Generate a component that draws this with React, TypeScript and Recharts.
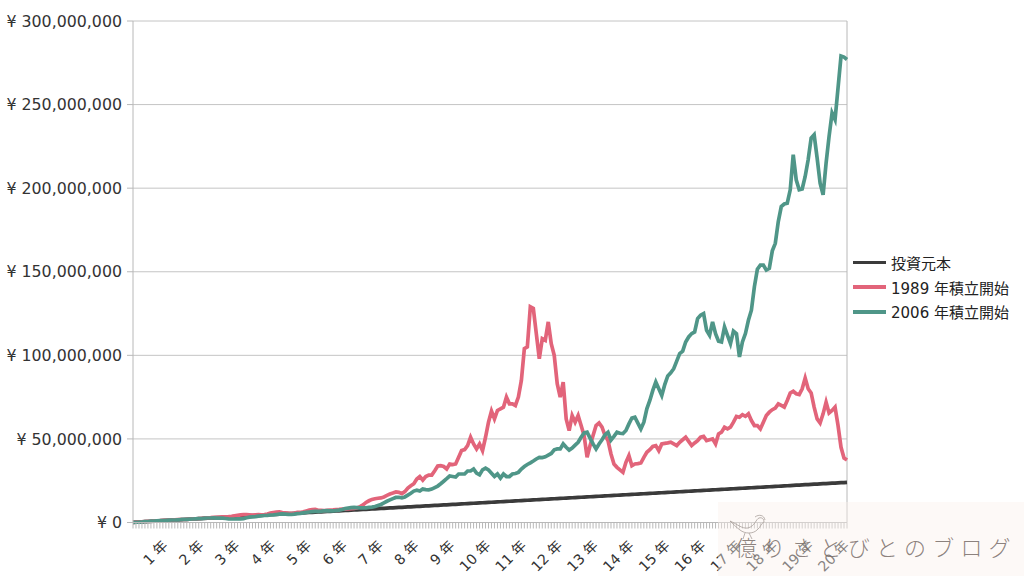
import React from "react";
import { LineChart, Line, XAxis, YAxis, CartesianGrid, ReferenceLine } from "recharts";

const principal = [
  0.1,0.2,0.3,0.4,0.5,0.6,0.7,0.8,0.9,1.0,1.1,1.2,
  1.3,1.4,1.5,1.6,1.7,1.8,1.9,2.0,2.1,2.2,2.3,2.4,
  2.5,2.6,2.7,2.8,2.9,3.0,3.1,3.2,3.3,3.4,3.5,3.6,
  3.7,3.8,3.9,4.0,4.1,4.2,4.3,4.4,4.5,4.6,4.7,4.8,
  4.9,5.0,5.1,5.2,5.3,5.4,5.5,5.6,5.7,5.8,5.9,6.0,
  6.1,6.2,6.3,6.4,6.5,6.6,6.7,6.8,6.9,7.0,7.1,7.2,
  7.3,7.4,7.5,7.6,7.7,7.8,7.9,8.0,8.1,8.2,8.3,8.4,
  8.5,8.6,8.7,8.8,8.9,9.0,9.1,9.2,9.3,9.4,9.5,9.6,
  9.7,9.8,9.9,10.0,10.1,10.2,10.3,10.4,10.5,10.6,10.7,10.8,
  10.9,11.0,11.1,11.2,11.3,11.4,11.5,11.6,11.7,11.8,11.9,12.0,
  12.1,12.2,12.3,12.4,12.5,12.6,12.7,12.8,12.9,13.0,13.1,13.2,
  13.3,13.4,13.5,13.6,13.7,13.8,13.9,14.0,14.1,14.2,14.3,14.4,
  14.5,14.6,14.7,14.8,14.9,15.0,15.1,15.2,15.3,15.4,15.5,15.6,
  15.7,15.8,15.9,16.0,16.1,16.2,16.3,16.4,16.5,16.6,16.7,16.8,
  16.9,17.0,17.1,17.2,17.3,17.4,17.5,17.6,17.7,17.8,17.9,18.0,
  18.1,18.2,18.3,18.4,18.5,18.6,18.7,18.8,18.9,19.0,19.1,19.2,
  19.3,19.4,19.5,19.6,19.7,19.8,19.9,20.0,20.1,20.2,20.3,20.4,
  20.5,20.6,20.7,20.8,20.9,21.0,21.1,21.2,21.3,21.4,21.5,21.6,
  21.7,21.8,21.9,22.0,22.1,22.2,22.3,22.4,22.5,22.6,22.7,22.8,
  22.9,23.0,23.1,23.2,23.3,23.4,23.5,23.6,23.7,23.8,23.9,24.0,
];

const start1989 = [
  0.1,0.2,0.3,0.45,0.6,0.7,0.8,0.95,1.0,1.1,1.3,1.4,
  1.4,1.5,1.6,1.7,1.7,1.8,1.9,2.0,2.1,2.1,2.3,2.5,
  2.8,2.8,2.9,3.1,3.1,3.3,3.4,3.4,3.5,3.7,4.0,4.3,
  4.6,4.7,4.7,4.6,4.5,4.6,4.7,4.6,4.8,5.1,5.6,6.0,
  6.3,6.4,6.0,5.8,5.6,5.5,5.7,6.0,6.0,6.4,6.9,7.4,
  7.7,7.8,7.3,7.2,7.1,7.3,7.4,7.5,7.7,7.8,8.0,8.0,
  8.2,8.3,8.5,8.7,9.5,10.5,12,13,13.8,14.2,14.5,14.7,
  15.3,16.2,17,17.6,18.3,18,17.2,18.5,20.6,22,23.2,26,
  27.5,25.4,27.5,28.4,28.4,31,33.8,34,33.5,32,35,34.6,
  35,39,43,43.6,46,51,47,44,47,43,51,60,
  66.7,62,67,68,69,75,71,71,70,75,85,104,
  105,129,128,113,98,110,109,120,107,100,83,75,
  84,62,55,64,60,64,58,52,39,46,52,58,
  59.5,57,52,49,41,35,33,31.5,30,36,40,34,
  35,35.2,35.6,39,42,43.5,45.5,46,43,47,47.3,47.6,
  48,47,46,48,49.5,51,48.5,46,47.6,49,51,51.5,
  49,49.5,50,47,53,54,57,56,57,60,63.5,63,
  64.5,63.5,65,61,58,58,56,60,64,66,67.5,68.5,
  71,70,69,73,77.5,78.5,77,76.5,80,86.4,80,77.5,
  69,62,59.5,65,72,65.5,67,69,58,45,38.6,37.4,
];

const start2006 = [
  0.1,0.15,0.2,0.3,0.5,0.6,0.8,0.9,1.0,1.1,1.2,1.3,
  1.4,1.5,1.5,1.6,1.7,1.9,1.9,2.0,2.1,2.2,2.3,2.3,
  2.6,2.7,2.7,2.8,2.6,2.7,2.6,2.4,2.2,2.1,2.1,2.2,
  2.2,2.3,2.8,3.2,3.4,3.5,3.8,4.0,4.2,4.3,4.5,4.6,
  4.8,5.0,5.1,5.0,4.9,4.8,5.0,5.3,5.5,5.8,6.1,6.3,
  6.5,6.6,6.7,6.8,7.0,7.1,7.0,6.9,7.2,7.4,7.8,8.3,
  8.6,8.9,9.1,8.9,8.7,8.7,8.8,9,9.2,9.6,10.2,10.8,
  11.8,12.7,13.5,14.3,15,15.1,14.8,15.3,16.4,17.5,18.8,19.3,
  18.8,20,19.7,19.5,20,20.9,21.8,23.2,24.7,26.2,27.8,27.5,
  27.2,29,29,29,30.8,30.8,32,29.5,28.5,31.5,32.5,31.4,
  29.5,27.5,29,26.6,29,27.5,27.5,29,29.3,30,32,33.5,
  34.7,35.7,36.8,38,39,38.8,39.3,40.3,41.3,43.5,44,44,
  47,45,43.3,44.5,46.3,48,51,53.6,54,50.5,47,44,
  47,49.5,52.5,54,49.3,51.5,54,53.4,53.2,55,59,62.5,
  63,59.5,56,60,68,73,79,84,80,76,82.5,87.7,
  89.5,92,96.5,101,102.5,108,111,113,114,122,124,125,
  115,112,120,113,108.5,108,117,112,107,114.5,113,99,
  108,113,121,127,141,151.5,154,154,151,152,162.5,167,
  180,189,190.5,191,199,220,205,199,199.5,207,217,230,
  232,218,203,196,215,231,245,241,260,279,278.4,277,
];

const yearLabels = [
  "1 年","2 年","3 年","4 年","5 年","6 年","7 年","8 年","9 年","10 年",
  "11 年","12 年","13 年","14 年","15 年","16 年","17 年","18 年","19 年","20 年",
];
const yTicks = [0, 50000000, 100000000, 150000000, 200000000, 250000000, 300000000];
const seriesNames = ["投資元本", "1989 年積立開始", "2006 年積立開始"];
const seriesColors = ["#3b3b3b", "#e2647a", "#4f9688"];

const rows = principal.map((p, i) => ({
  month: i + 1,
  principal: p * 1000000,
  s1989: start1989[i] * 1000000,
  s2006: start2006[i] * 1000000,
}));

const FONT = '"DejaVu Sans", "Noto Sans CJK JP", sans-serif';
const AXIS = "#b8b8b8";

function YearTick(props: any) {
  const { x, y, payload } = props;
  const m = payload.value;
  if (m % 12 !== 0) return <g />;
  return (
    <text
      x={x + 3}
      y={y + 16}
      textAnchor="end"
      fontFamily={FONT}
      fontSize={14.2}
      fill="#333"
      transform={`rotate(-45 ${x + 3} ${y + 16})`}
    >
      {yearLabels[m / 12 - 1]}
    </text>
  );
}

const formatYen = (v: number) => "¥ " + v.toLocaleString("en-US");

export default function App() {
  return (
    <div style={{ position: "absolute", left: 0, top: 0, width: 1024, height: 576, overflow: "hidden", background: "#fff" }}>
      <LineChart
        width={1024}
        height={576}
        data={rows}
        margin={{ top: 21, right: 177, bottom: 0, left: 0 }}
      >
        <CartesianGrid horizontal vertical={false} stroke="#c4c4c4" strokeWidth={1} />
        <XAxis
          dataKey="month"
          type="category"
          scale="point"
          padding={{ left: 0, right: 0 }}
          interval={0}
          height={53.5}
          tick={YearTick}
          tickLine={{ stroke: AXIS }}
          tickSize={6}
          axisLine={{ stroke: AXIS }}
        />
        <YAxis
          width={133}
          domain={[0, 300000000]}
          ticks={yTicks}
          tickFormatter={formatYen}
          tick={{ fontFamily: FONT, fontSize: 15.8, fill: "#333" }}
          tickLine={{ stroke: AXIS }}
          tickSize={6}
          tickMargin={5}
          axisLine={{ stroke: AXIS }}
          interval={0}
        />
        <ReferenceLine x={240} stroke={AXIS} />
        <Line dataKey="principal" name={seriesNames[0]} stroke={seriesColors[0]} strokeWidth={3.7} dot={false} isAnimationActive={false} />
        <Line dataKey="s1989" name={seriesNames[1]} stroke={seriesColors[1]} strokeWidth={3.7} dot={false} isAnimationActive={false} />
        <Line dataKey="s2006" name={seriesNames[2]} stroke={seriesColors[2]} strokeWidth={3.7} dot={false} isAnimationActive={false} />
      </LineChart>

      <div style={{ position: "absolute", left: 853, top: 250, fontFamily: FONT, fontSize: 15, color: "#222" }}>
        {seriesNames.map((n, i) => (
          <div key={n} style={{ display: "flex", alignItems: "center", height: 24.7, whiteSpace: "nowrap" }}>
            <span style={{ display: "inline-block", width: 33, height: 3.7, background: seriesColors[i], marginRight: 5 }} />
            {n}
          </div>
        ))}
      </div>

      <div style={{ position: "absolute", left: 718, top: 502, width: 306, height: 74, background: "rgba(250,240,236,0.42)" }}>
        <svg width={40} height={28} style={{ position: "absolute", left: 10, top: 10 }} fill="none" stroke="#a89f9b" strokeWidth={0.8}>
          <path d="M2 9 C9 12 14 17 20 16 C27 14 28 7 31 6 C34 5 36 7 36 10 C33 11 33 15 29 18 C25 22 17 22 12 18 C8 15 5 12 2 9 Z" />
          <path d="M27 5 C31 2 36 3 37 8" />
          <path d="M17 21 L15 27 M21 21 L24 27" />
        </svg>
        <div style={{ position: "absolute", left: 17, top: 28, fontFamily: '"Noto Sans CJK JP", sans-serif', fontWeight: 300, fontSize: 22, letterSpacing: 6.2, color: "rgba(120,108,104,0.85)", whiteSpace: "nowrap" }}>
          億りさとびとのブログ
        </div>
      </div>
    </div>
  );
}
